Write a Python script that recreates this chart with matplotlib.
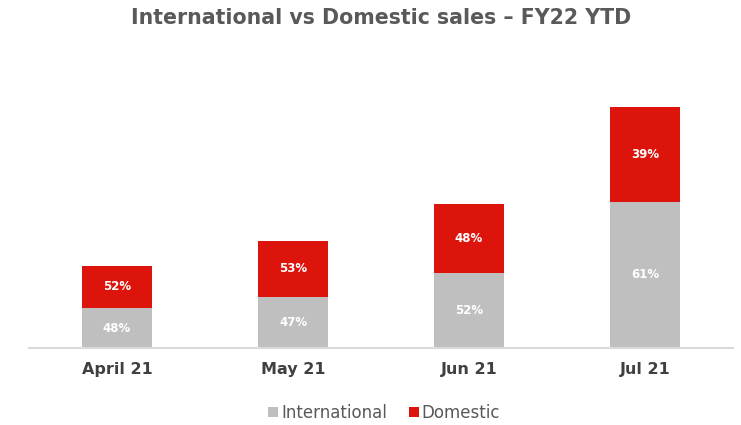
import matplotlib
matplotlib.use("Agg")
import matplotlib.pyplot as plt
import numpy as np

months = ["April 21", "May 21", "Jun 21", "Jul 21"]
international = [40, 51, 75, 146]
domestic = [42, 56, 69, 95]
intl_labels = ["48%", "47%", "52%", "61%"]
dom_labels = ["52%", "53%", "48%", "39%"]

GRAY = "#bfbfbf"
RED = "#dc140c"

fig = plt.figure(figsize=(7.41, 4.25), dpi=100)
ax = fig.add_axes([29/741, 77/425, 704/741, 258/425])

x = np.arange(len(months))
b1 = ax.bar(x, international, width=0.4, color=GRAY, label="International")
b2 = ax.bar(x, domestic, width=0.4, bottom=international, color=RED, label="Domestic")

for i in range(len(months)):
    ax.text(x[i], international[i] / 2, intl_labels[i], ha="center", va="center",
            color="white", fontsize=8.5, fontweight="bold", family="DejaVu Sans")
    ax.text(x[i], international[i] + domestic[i] / 2, dom_labels[i], ha="center", va="center",
            color="white", fontsize=8.5, fontweight="bold", family="DejaVu Sans")

ax.set_xlim(-0.5, 3.5)
ax.set_ylim(0, 258)
for s in ["top", "right", "left"]:
    ax.spines[s].set_visible(False)
ax.spines["bottom"].set_color("#d9d9d9")
ax.spines["bottom"].set_linewidth(1.5)
ax.set_yticks([])
ax.set_xticks(x)
ax.set_xticklabels(months, fontsize=11.5, fontweight="bold", color="#404040", family="DejaVu Sans")
ax.tick_params(axis="x", length=0, pad=10)

fig.text(381/741, 1 - 18/425, "International vs Domestic sales \u2013 FY22 YTD", ha="center", va="center",
         fontsize=14.8, fontweight="bold", color="#595959", family="DejaVu Sans")

leg = fig.legend(handles=[b1, b2], loc="center", bbox_to_anchor=(384/741, 1 - 413/425), ncol=2,
                 frameon=False, handlelength=0.6, handleheight=0.6,
                 handletextpad=0.2, columnspacing=1.3, labelcolor="#595959",
                 prop={"family": "Liberation Sans Narrow", "size": 12})

fig.savefig("out.png", dpi=100)
